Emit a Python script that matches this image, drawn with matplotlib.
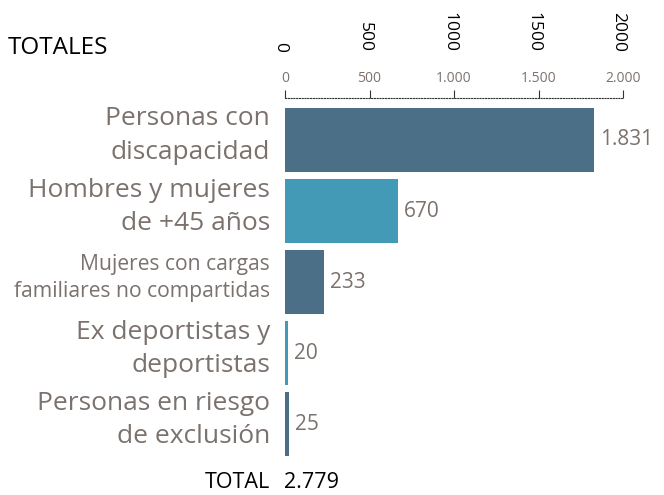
import matplotlib
matplotlib.use("Agg")
import matplotlib.pyplot as plt
from matplotlib.transforms import blended_transform_factory

categories = ["Personas con\ndiscapacidad", "Hombres y mujeres\nde +45 años",
              "Mujeres con cargas\nfamiliares no compartidas", "Ex deportistas y\ndeportistas",
              "Personas en riesgo\nde exclusión"]
values = [1831, 670, 233, 20, 25]
value_labels = ["1.831", "670", "233", "20", "25"]
ticks = [0, 500, 1000, 1500, 2000]
tick_labels = ["0", "500", "1.000", "1.500", "2.000"]
rot_labels = ["0", "500", "1000", "1500", "2000"]
total_label = "2.779"

dark = "#4a6f87"
light = "#439ab6"
colors = [dark, light, dark, light, dark]
gray = "#7b726d"
FONT = "Open Sans"

W, H = 664, 495
fig = plt.figure(figsize=(W / 100, H / 100), dpi=100)
left, right, top, bottom = 285, 623, 98, 465
ax = fig.add_axes([left / W, 1 - bottom / H, (right - left) / W, (bottom - top) / H])

y = list(range(len(values)))
ax.barh(y, values, height=0.9, color=colors)
ax.set_xlim(0, 2000)
ax.set_ylim(4.57, -0.59)

for s in ["left", "right", "bottom"]:
    ax.spines[s].set_visible(False)
ax.spines["top"].set_linestyle((0, (1, 1.5)))
ax.spines["top"].set_linewidth(0.8)
ax.spines["top"].set_color("#333333")
ax.xaxis.tick_top()
ax.set_xticks(ticks)
ax.set_xticklabels(tick_labels, fontsize=10, color=gray, family=FONT)
ax.tick_params(axis="x", direction="out", length=6, width=0.8, color="#333333", pad=3)
ax.set_yticks([])

tr = blended_transform_factory(ax.transAxes, ax.transData)
for i, (c, v, vl) in enumerate(zip(categories, values, value_labels)):
    if i == 2:
        fs, ls = 15.2, 1.4
    else:
        fs, ls = 19, 1.45
    ax.text(-0.044, i - 0.06, c, transform=tr, ha="right", va="center", fontsize=fs,
            color=gray, family=FONT, linespacing=ls)
    ax.text(v + 35, i, vl, ha="left", va="center", fontsize=15, color=gray, family=FONT,
            clip_on=False)

trx = blended_transform_factory(ax.transData, fig.transFigure)
for t, l in zip(ticks, rot_labels):
    ax.text(t - 30, 1 - 52 / H, l, transform=trx, rotation=-90, ha="center", va="bottom",
            fontsize=12.5, color="black", family=FONT)

fig.text(8 / W, 1 - 48 / H, "TOTALES", ha="left", va="center", fontsize=17.5, color="black",
         family=FONT)
fig.text(270 / W, 1 - 483 / H, "TOTAL", ha="right", va="center", fontsize=15.5, color="black",
         family=FONT)
fig.text(284 / W, 1 - 483 / H, total_label, ha="left", va="center", fontsize=15.5,
         color="black", family=FONT)

fig.savefig("out.png", dpi=100)
